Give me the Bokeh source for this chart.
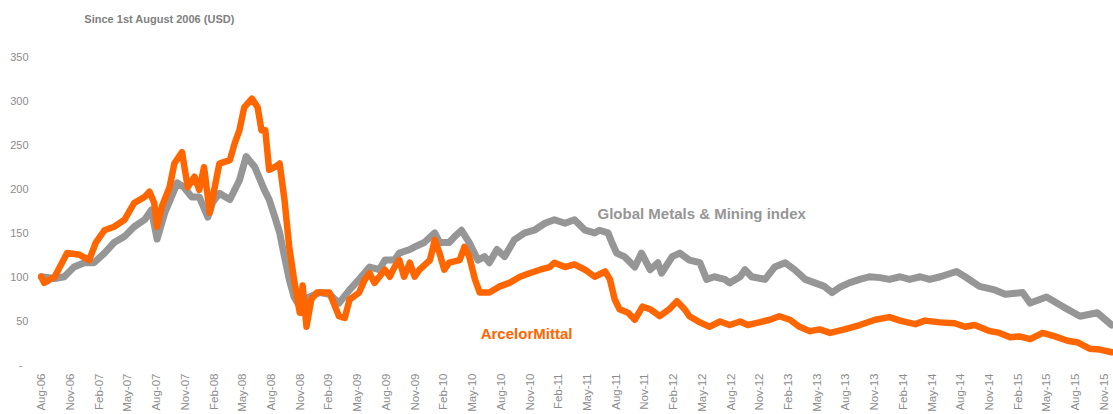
from math import pi
from bokeh.plotting import figure
from bokeh.models import Range1d, FixedTicker, Label
from bokeh.embed import file_html
from bokeh.resources import INLINE

# ---- data (months since 1st August 2006, index value, USD) ----
am_month = [0, 0.3, 1.4, 2.7, 4.0, 5.0, 5.7, 6.6, 7.6, 8.7, 9.7, 10.8, 11.3, 11.8, 12.1,
            12.6, 13.4, 13.9, 14.7, 15.3, 16.0, 16.5, 17.0, 17.6, 18.6, 19.7, 20.2, 20.7,
            21.2, 22.0, 22.6, 23.0, 23.4, 23.8, 24.4, 24.9, 25.4, 25.9, 26.4, 27.0, 27.3,
            27.7, 28.2, 28.8, 30.1, 31.1, 31.7, 32.2, 33.2, 33.8, 34.3, 34.8, 35.9, 36.4,
            36.9, 37.4, 37.9, 38.5, 39.0, 39.5, 40.6, 41.1, 41.6, 42.1, 42.6, 43.7, 44.2,
            44.7, 45.3, 45.8, 46.8, 47.9, 48.9, 50.0, 51.0, 52.1, 53.1, 53.6, 54.7, 55.7,
            56.8, 57.8, 58.9, 59.4, 59.9, 60.4, 61.3, 62.0, 62.8, 63.6, 64.6, 65.6, 66.4,
            67.2, 67.7, 68.8, 69.8, 70.9, 71.9, 73.0, 73.8, 75.0, 76.1, 77.1, 78.2, 79.2,
            80.3, 81.3, 82.4, 83.9, 85.5, 87.1, 88.6, 89.7, 91.3, 92.3, 93.9, 95.4, 96.5,
            97.5, 99.1, 100.1, 101.2, 102.2, 103.3, 104.6, 105.9, 107.2, 108.3, 109.5,
            110.6, 111.8]
am_value = [100, 93, 100, 127, 125, 119, 139, 153, 157, 165, 184, 191, 197, 184, 157,
            180, 202, 229, 242, 202, 214, 199, 225, 173, 229, 233, 252, 267,
            293, 303, 293, 267, 267, 222, 225, 229, 188, 134, 97, 59, 90,
            43, 74, 82, 82, 55, 53, 74, 82, 97, 104, 93, 108, 100,
            111, 119, 100, 116, 100, 108, 119, 142, 127, 108, 116, 119, 134,
            123, 97, 82, 82, 89, 93, 100, 104, 108, 111, 116, 111, 114,
            108, 100, 106, 97, 74, 63, 59, 51, 66, 63, 55, 63, 72,
            63, 55, 48, 43, 49, 45, 49, 45, 48, 51, 55, 51, 43,
            38, 40, 36, 40, 45, 51, 54, 50, 46, 50, 48, 47, 43,
            45, 38, 36, 31, 32, 29, 36, 32, 27, 25, 18,
            17, 14]

gm_month = [0, 1.4, 2.4, 3.4, 4.5, 5.5, 6.6, 7.6, 8.7, 9.7, 10.8, 11.5, 12.1, 12.9,
            13.6, 14.2, 14.9, 15.7, 16.5, 17.4, 17.9, 18.6, 19.7, 20.7, 21.4, 22.3, 23.3,
            23.8, 24.4, 24.9, 25.4, 25.9, 26.4, 27.0, 28.0, 29.1, 30.1, 31.1, 32.2, 33.2,
            34.3, 35.3, 35.9, 36.9, 37.4, 38.5, 39.0, 40.0, 41.1, 41.6, 42.6, 43.2, 43.9,
            44.7, 45.6, 46.3, 46.8, 47.6, 48.4, 49.4, 50.5, 51.5, 52.6, 53.6, 54.7, 55.7,
            56.8, 57.8, 58.3, 59.2, 59.6, 60.1, 60.9, 62.0, 62.7, 63.6, 64.4, 64.8, 65.9,
            66.7, 67.7, 68.8, 69.5, 70.3, 71.4, 71.9, 73.0, 73.5, 74.2, 75.6, 76.6, 77.7,
            78.7, 79.8, 80.8, 81.8, 82.6, 83.4, 84.4, 85.5, 86.5, 87.6, 88.6, 89.7, 90.7,
            91.8, 92.8, 93.9, 95.6, 96.5, 98.0, 99.6, 100.7, 102.5, 103.3, 105.0, 106.7,
            108.5, 110.3, 111.8]
gm_value = [100, 98, 100, 111, 116, 116, 127, 139, 146, 157, 165, 176, 143, 173,
            191, 207, 202, 191, 191, 168, 185, 195, 188, 210, 237, 225, 199,
            188, 168, 150, 123, 97, 77, 66, 77, 82, 80, 70, 85, 97,
            111, 108, 119, 119, 127, 131, 134, 139, 150, 139, 139, 146, 153,
            139, 119, 123, 116, 131, 123, 142, 150, 153, 161, 165, 161, 165,
            153, 150, 153, 150, 139, 127, 123, 111, 127, 108, 116, 104, 123,
            127, 119, 116, 97, 100, 97, 93, 100, 108, 100, 97, 111, 116,
            108, 97, 93, 89, 82, 88, 93, 97, 100, 99, 97, 100, 97,
            100, 97, 100, 106, 100, 89, 85, 80, 82, 70, 77, 66,
            55, 59, 45]

tick_months = list(range(0, 112, 3))
tick_labels = ["Aug-06", "Nov-06", "Feb-07", "May-07", "Aug-07", "Nov-07", "Feb-08",
               "May-08", "Aug-08", "Nov-08", "Feb-09", "May-09", "Aug-09", "Nov-09",
               "Feb-10", "May-10", "Aug-10", "Nov-10", "Feb-11", "May-11", "Aug-11",
               "Nov-11", "Feb-12", "May-12", "Aug-12", "Nov-12", "Feb-13", "May-13",
               "Aug-13", "Nov-13", "Feb-14", "May-14", "Aug-14", "Nov-14", "Feb-15",
               "May-15", "Aug-15", "Nov-15"]
y_ticks = [0, 50, 100, 150, 200, 250, 300, 350]

GRAY = "#969696"
ORANGE = "#FF6600"
LABEL = "#8c8c8c"
FONT = "Liberation Sans"

p = figure(width=1113, height=414, output_backend="svg", toolbar_location=None,
           x_range=Range1d(-0.5, 112), y_range=Range1d(0, 400),
           min_border_left=36, min_border_right=0, min_border_top=13, min_border_bottom=49)
p.outline_line_color = None
p.xgrid.grid_line_color = None
p.ygrid.grid_line_color = None
p.background_fill_color = "white"
p.border_fill_color = "white"

p.line(gm_month, gm_value, line_color=GRAY, line_width=7, line_join="round", line_cap="round")
p.line(am_month, am_value, line_color=ORANGE, line_width=6.5, line_join="round", line_cap="round")

# axes
p.yaxis.ticker = FixedTicker(ticks=y_ticks)
p.yaxis.major_label_overrides = {0: "-\u00a0\u00a0"}
p.xaxis.ticker = FixedTicker(ticks=tick_months)
p.xaxis.major_label_overrides = {m: lab for m, lab in zip(tick_months, tick_labels)}
p.xaxis.major_label_orientation = pi / 2
for ax in (p.xaxis, p.yaxis):
    ax.axis_line_color = None
    ax.major_tick_line_color = None
    ax.minor_tick_line_color = None
    ax.major_tick_out = 0
    ax.major_tick_in = 0
    ax.major_label_text_font = FONT
    ax.major_label_text_color = LABEL
p.xaxis.major_label_text_font_size = "11.5px"
p.yaxis.major_label_text_font_size = "11px"
p.xaxis.major_label_standoff = 9
p.yaxis.major_label_standoff = 8

p.add_layout(Label(x=4.5, y=394, text="Since 1st August 2006 (USD)", text_font=FONT,
                   text_font_size="11px", text_font_style="bold", text_color="#808080",
                   text_baseline="middle", text_align="left"))
p.add_layout(Label(x=58.1, y=172.5, text="Global Metals & Mining index", text_font=FONT,
                   text_font_size="15px", text_font_style="bold", text_color=GRAY,
                   text_baseline="middle", text_align="left"))
p.add_layout(Label(x=45.9, y=35.2, text="ArcelorMittal", text_font=FONT,
                   text_font_size="15px", text_font_style="bold", text_color=ORANGE,
                   text_baseline="middle", text_align="left"))

open("out.html", "w").write(file_html(p, INLINE))
